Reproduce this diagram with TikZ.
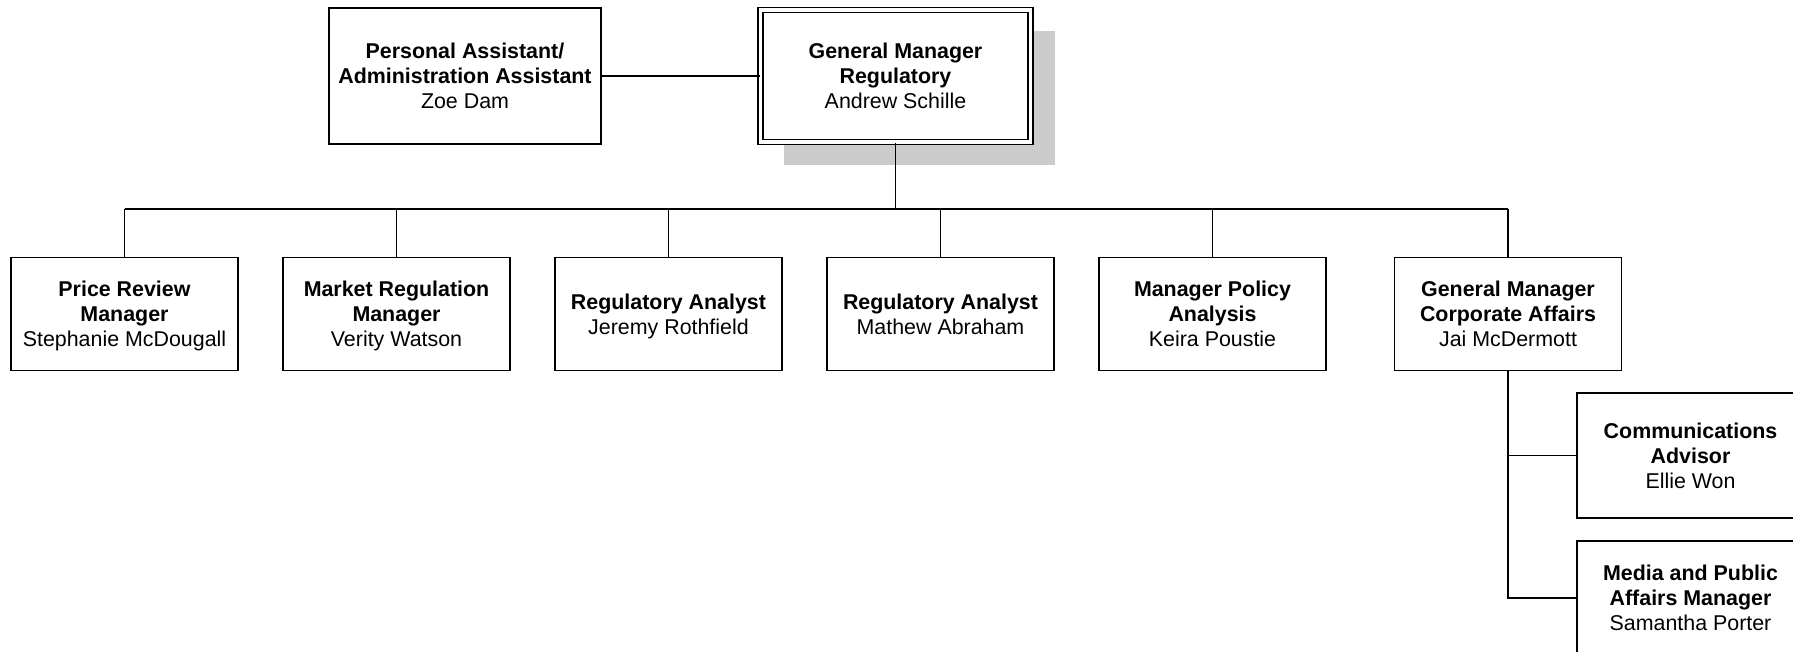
\documentclass[tikz,border=0pt]{standalone}
\usepackage{fontspec}
\setmainfont{Liberation Sans}
\usetikzlibrary{backgrounds}
\definecolor{shadowgray}{RGB}{204,204,204}
\tikzset{
  orgbox/.style={draw, line width=0.8pt, fill=white, align=center, inner sep=0pt,
    minimum width=113.5pt, minimum height=56.5pt, text depth=0pt,
    font=\fontsize{10.7}{12.5}\selectfont},
  link/.style={line width=0.8pt}
}
\begin{document}
\begin{tikzpicture}[x=0.5pt, y=-0.5pt]
  \useasboundingbox (0,0) rectangle (1793,652);
  \clip (0,0) rectangle (1793,652);

  % top level
  \node[orgbox, minimum width=136pt, minimum height=68pt] (pa) at (465,76)
    {\textbf{Personal Assistant/}\\\textbf{Administration Assistant}\\Zoe Dam};
  \node[orgbox, minimum width=135pt, minimum height=66pt, double, double distance=1.8pt] (gm) at (895.5,76)
    {\textbf{General Manager}\\\textbf{Regulatory}\\Andrew Schille};
  \begin{scope}[on background layer]
    \fill[shadowgray] ([shift={(24,22)}]gm.north west) rectangle ([shift={(24,22)}]gm.south east);
  \end{scope}
  \draw[link] (pa.east) -- (gm.west);

  % second level
  \coordinate (bus) at (0,209);
  \node[orgbox] (b1) at (124.5,314) {\textbf{Price Review}\\\textbf{Manager}\\Stephanie McDougall};
  \node[orgbox] (b2) at (396.5,314) {\textbf{Market Regulation}\\\textbf{Manager}\\Verity Watson};
  \node[orgbox] (b3) at (668.5,314) {\textbf{Regulatory Analyst}\\Jeremy Rothfield};
  \node[orgbox] (b4) at (940.5,314) {\textbf{Regulatory Analyst}\\Mathew Abraham};
  \node[orgbox] (b5) at (1212.5,314) {\textbf{Manager Policy}\\\textbf{Analysis}\\Keira Poustie};
  \node[orgbox] (b6) at (1508,314) {\textbf{General Manager}\\\textbf{Corporate Affairs}\\Jai McDermott};

  \draw[link] (gm.south) -- (gm.south |- bus);
  \draw[link] (b1.north |- bus) -- (b6.north |- bus);
  \foreach \n in {b1,b2,b3,b4,b5,b6}
    \draw[link] (\n.north) -- (\n.north |- bus);

  % third level
  \node[orgbox, minimum height=62.5pt] (comms) at (1690.5,455.5)
    {\textbf{Communications}\\\textbf{Advisor}\\Ellie Won};
  \node[orgbox, minimum height=57pt] (media) at (1690.5,598)
    {\textbf{Media and Public}\\\textbf{Affairs Manager}\\Samantha Porter};
  \draw[link] (b6.south) |- (media.west);
  \draw[link] (b6.south |- comms.west) -- (comms.west);
\end{tikzpicture}
\end{document}
